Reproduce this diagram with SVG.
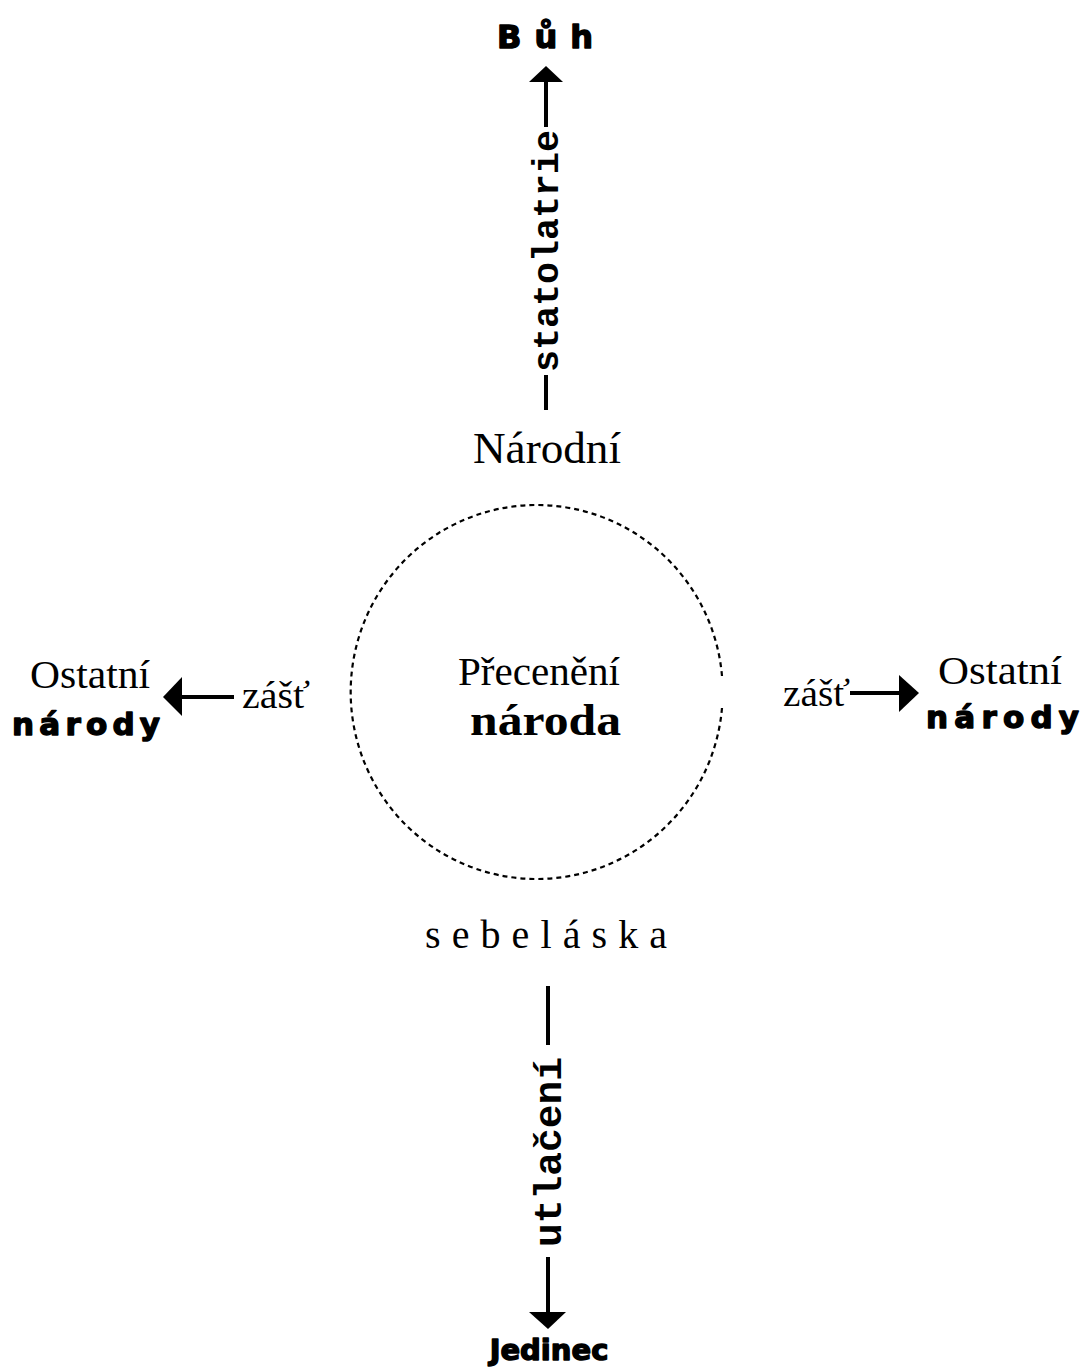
<svg xmlns="http://www.w3.org/2000/svg" width="1082" height="1370" viewBox="0 0 1082 1370">
<style>
.serif{font-family:"Liberation Serif","Times New Roman",serif;fill:#000}
.heavy{font-family:"DejaVu Sans","Liberation Sans",sans-serif;font-weight:bold;fill:#000;stroke:#000;stroke-width:1.4;stroke-linejoin:round}
.mono{font-family:"Liberation Mono","Courier New",monospace;font-weight:bold;fill:#000}
.ln{stroke:#000;stroke-width:4;fill:none}
.head{fill:#000}
</style>
<rect width="1082" height="1370" fill="#fff"/>
<g id="connectors">
  <line class="ln" x1="546" y1="410" x2="546" y2="375"/>
  <line class="ln" x1="546" y1="127" x2="546" y2="80"/>
  <path class="head" d="M546 66 L563 82 L529 82 Z"/>
  <line class="ln" x1="548" y1="986" x2="548" y2="1045"/>
  <line class="ln" x1="548" y1="1257" x2="548" y2="1314"/>
  <path class="head" d="M548 1329 L566 1312 L529 1312 Z"/>
  <line class="ln" x1="234" y1="697" x2="178" y2="697"/>
  <path class="head" d="M163 697 L182 677 L182 716 Z"/>
  <line class="ln" x1="850" y1="693" x2="900" y2="693"/>
  <path class="head" d="M919 693 L899 675 L899 712 Z"/>
</g>
<g id="circle">
  <path d="M722 676 A186 187 0 1 0 722 708" fill="none" stroke="#000" stroke-width="2.2" stroke-dasharray="5 4"/>
  <text class="serif" x="458" y="685" font-size="40" textLength="162" lengthAdjust="spacingAndGlyphs">Přecenění</text>
  <text class="serif" x="470" y="735" font-size="44" font-weight="bold" textLength="151" lengthAdjust="spacingAndGlyphs">národa</text>
</g>
<g id="buh">
  <text class="heavy" x="497" y="48" font-size="32" letter-spacing="13">Bůh</text>
</g>
<g id="statolatrie">
  <text class="mono" transform="translate(558,251) rotate(-90)" font-size="36" text-anchor="middle" textLength="242" lengthAdjust="spacingAndGlyphs">statolatrie</text>
</g>
<g id="narodni">
  <text class="serif" x="473" y="463" font-size="45" textLength="148" lengthAdjust="spacingAndGlyphs">Národní</text>
</g>
<g id="sebelaska">
  <text class="serif" x="425" y="948" font-size="40" textLength="242">sebeláska</text>
</g>
<g id="utlaceni">
  <text class="mono" transform="translate(561,1152) rotate(-90)" font-size="38" text-anchor="middle" textLength="190" lengthAdjust="spacingAndGlyphs">utlačení</text>
</g>
<g id="jedinec">
  <text class="heavy" x="549" y="1360" font-size="29" text-anchor="middle">Jedinec</text>
</g>
<g id="left-narody">
  <text class="serif" x="30" y="688" font-size="40" textLength="120" lengthAdjust="spacingAndGlyphs">Ostatní</text>
  <text class="heavy" x="12" y="735" font-size="31" textLength="148">národy</text>
  <text class="serif" x="242" y="708" font-size="38" textLength="68" lengthAdjust="spacingAndGlyphs">zášť</text>
</g>
<g id="right-narody">
  <text class="serif" x="783" y="706" font-size="38" textLength="67" lengthAdjust="spacingAndGlyphs">zášť</text>
  <text class="serif" x="938" y="684" font-size="40" textLength="124" lengthAdjust="spacingAndGlyphs">Ostatní</text>
  <text class="heavy" x="926" y="728" font-size="31" textLength="153">národy</text>
</g>
</svg>
